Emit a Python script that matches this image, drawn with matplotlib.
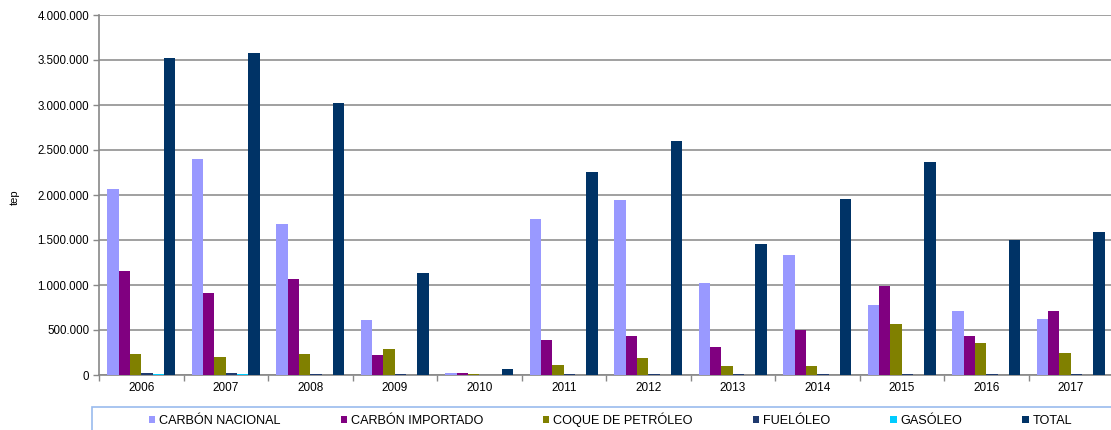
import matplotlib.pyplot as plt
import numpy as np
from matplotlib.patches import Rectangle
from matplotlib.ticker import FuncFormatter, FixedLocator

plt.rcParams['font.family'] = ['Liberation Sans', 'DejaVu Sans']

years = ['2006', '2007', '2008', '2009', '2010', '2011',
         '2012', '2013', '2014', '2015', '2016', '2017']
carbon_nacional = [2070000, 2400000, 1680000, 615000, 25000, 1730000,
                   1950000, 1020000, 1330000, 775000, 710000, 620000]
carbon_importado = [1160000, 915000, 1070000, 222000, 20000, 385000,
                    435000, 310000, 500000, 990000, 428000, 716000]
coque_petroleo = [232000, 205000, 235000, 285000, 8000, 115000,
                  190000, 95000, 100000, 567000, 352000, 246000]
fueloleo = [25000, 25000, 10000, 8000, 5000, 8000,
            8000, 8000, 8000, 8000, 8000, 8000]
gasoleo = [8000, 8000, 5000, 5000, 3000, 5000,
           5000, 5000, 5000, 5000, 5000, 5000]
total = [3520000, 3575000, 3020000, 1137000, 70000, 2260000,
         2600000, 1455000, 1960000, 2370000, 1497000, 1590000]

series = [
    ('CARBÓN NACIONAL', carbon_nacional, '#9999FF'),
    ('CARBÓN IMPORTADO', carbon_importado, '#800080'),
    ('COQUE DE PETRÓLEO', coque_petroleo, '#808000'),
    ('FUELÓLEO', fueloleo, '#1F3A6E'),
    ('GASÓLEO', gasoleo, '#00CCFF'),
    ('TOTAL', total, '#003366'),
]

W, H = 1111, 430
fig = plt.figure(figsize=(W / 100, H / 100), dpi=100)
ax = fig.add_axes([99 / W, (H - 375) / H, 1014 / W, 360 / H])

x = np.arange(len(years))
bw = 1 / 7.5
for i, (name, vals, col) in enumerate(series):
    ax.bar(x - 0.5 + 0.75 * bw + (i + 0.5) * bw, vals, width=bw, color=col,
           label=name, zorder=3, edgecolor='none')

ax.set_xlim(-0.5, len(years) - 0.5)
ax.set_ylim(0, 4000000)
ax.set_yticks(np.arange(0, 4000001, 500000))
ax.yaxis.set_major_formatter(FuncFormatter(lambda v, p: f'{int(v):,}'.replace(',', '.')))
ax.yaxis.grid(True, color='#999999', linewidth=1.3, zorder=0)
ax.set_xticks(x)
ax.set_xticklabels(years)
ax.xaxis.set_minor_locator(FixedLocator(np.arange(-0.5, len(years), 1)))
ax.tick_params(axis='x', which='major', length=0, pad=5, labelsize=8.5)
ax.tick_params(axis='x', which='minor', length=4, color='#888888', width=1)
ax.tick_params(axis='y', length=4, color='#888888', width=1, labelsize=8.3, pad=3)

for s in ['top', 'right']:
    ax.spines[s].set_visible(False)
for s in ['left', 'bottom']:
    ax.spines[s].set_color('#888888')
    ax.spines[s].set_linewidth(1.2)

fig.text(15 / W, 1 - 197 / H, 'tep', rotation=90, fontsize=8,
         ha='center', va='center')

# legend box below the plot
fig.patches.append(Rectangle((92 / W, -0.1), 1.1, (H - 407) / H + 0.1,
                             transform=fig.transFigure, facecolor='white',
                             edgecolor='#99BBEE', linewidth=1.2))
fig.legend(loc='center left', bbox_to_anchor=(149 / W, 1 - 420 / H), ncol=6,
           frameon=False, fontsize=9.1, handlelength=0.5, handleheight=0.5,
           handletextpad=0.3, columnspacing=4.75, borderpad=0, borderaxespad=0)

fig.savefig('out.png', dpi=100)
